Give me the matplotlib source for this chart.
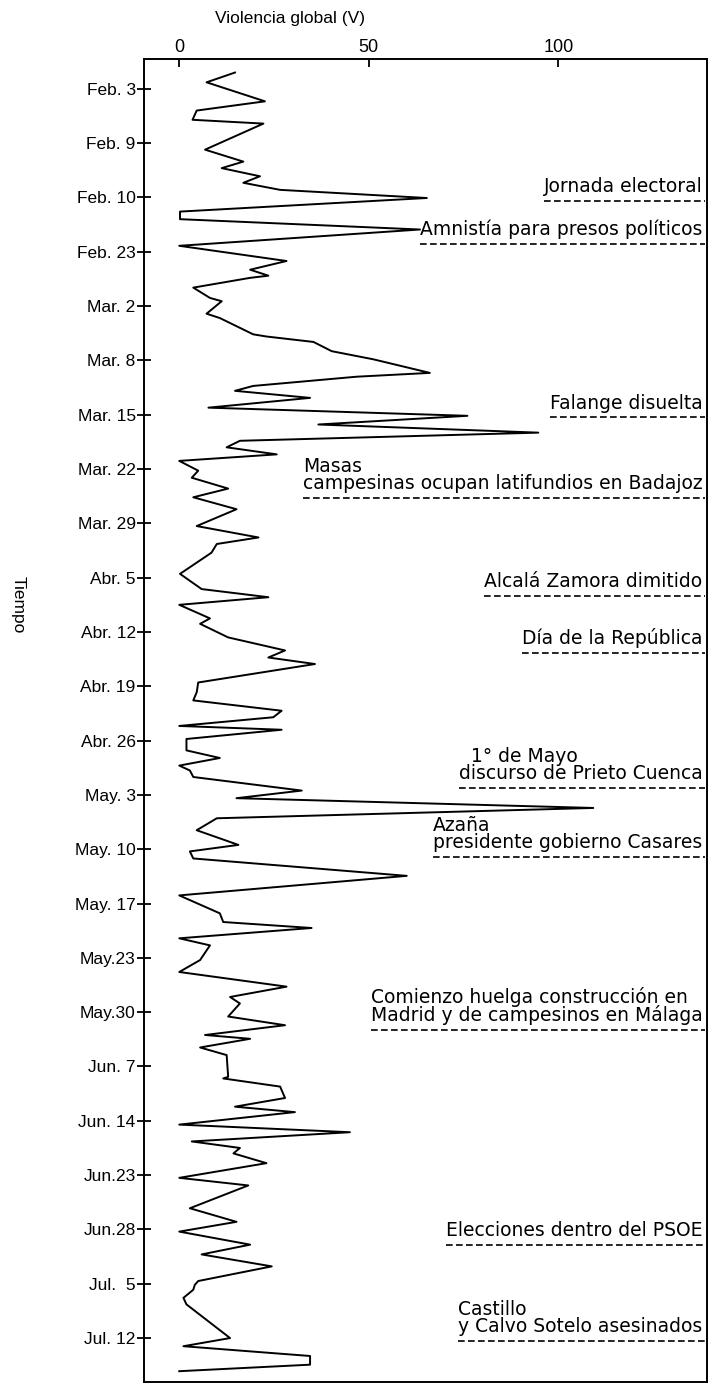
import matplotlib
matplotlib.use('Agg')
import matplotlib.pyplot as plt
import matplotlib.transforms as mtransforms

plt.rcParams['font.family'] = ['Liberation Sans', 'DejaVu Sans']

# Etiquetas del eje de tiempo (una por semana, espaciado uniforme)
fechas = ['Feb. 3', 'Feb. 9', 'Feb. 10', 'Feb. 23', 'Mar. 2', 'Mar. 8', 'Mar. 15',
          'Mar. 22', 'Mar. 29', 'Abr. 5', 'Abr. 12', 'Abr. 19', 'Abr. 26', 'May. 3',
          'May. 10', 'May. 17', 'May.23', 'May.30', 'Jun. 7', 'Jun. 14', 'Jun.23',
          'Jun.28', 'Jul.  5', 'Jul. 12']

# Serie: posicion temporal (en unidades de etiqueta) y violencia global V
tiempo = [-0.30, -0.12, 0.23, 0.40, 0.57, 0.64, 1.12, 1.34, 1.46, 1.61, 1.73, 1.86,
          2.01, 2.26, 2.40, 2.59, 2.89, 3.17, 3.33, 3.44, 3.48, 3.66, 3.85, 3.91,
          4.14, 4.22, 4.52, 4.56, 4.66, 4.83, 4.98, 5.23, 5.30, 5.47, 5.56, 5.69,
          5.87, 6.02, 6.18, 6.33, 6.48, 6.60, 6.73, 6.85, 7.03, 7.16, 7.36, 7.52,
          7.74, 8.05, 8.26, 8.38, 8.54, 8.93, 9.21, 9.36, 9.50, 9.75, 9.85, 10.10,
          10.34, 10.47, 10.59, 10.93, 11.11, 11.26, 11.45, 11.57, 11.73, 11.80,
          11.97, 12.18, 12.32, 12.46, 12.55, 12.67, 12.92, 13.06, 13.24, 13.43,
          13.65, 13.92, 14.04, 14.17, 14.49, 14.85, 15.18, 15.34, 15.45, 15.64,
          15.77, 16.04, 16.26, 16.53, 16.72, 16.84, 17.08, 17.24, 17.42, 17.49,
          17.65, 17.79, 18.19, 18.22, 18.37, 18.58, 18.74, 18.84, 19.07, 19.21,
          19.38, 19.50, 19.60, 19.78, 20.05, 20.19, 20.61, 20.86, 21.04, 21.28,
          21.46, 21.68, 21.95, 22.02, 22.11, 22.26, 22.38, 23.00, 23.15, 23.33,
          23.49, 23.61]
violencia = [14.7, 7.2, 22.6, 4.6, 3.5, 22.2, 6.8, 16.9, 11.2, 21.3, 16.9, 26.6,
             65.3, 0.2, 0.2, 63.5, 0.0, 28.3, 18.7, 23.5, 18.7, 3.7, 8.1, 11.2,
             7.2, 10.7, 19.5, 23.0, 35.4, 40.2, 51.2, 66.1, 46.8, 19.5, 14.7, 34.5,
             7.7, 76.0, 36.7, 94.7, 16.0, 12.5, 25.7, 0.0, 5.0, 3.3, 12.9, 3.7,
             15.1, 4.6, 20.9, 9.9, 8.5, 0.2, 5.9, 23.5, 0.0, 8.1, 5.5, 12.9,
             27.9, 23.5, 35.8, 5.0, 4.6, 3.7, 27.0, 24.8, 0.0, 27.0,
             1.9, 1.9, 10.7, 0.0, 2.8, 3.7, 32.3, 15.1, 109.2, 9.9,
             4.6, 15.6, 2.8, 3.7, 60.0, 0.0, 10.7, 11.6, 34.9, 0.0,
             8.1, 5.5, 0.0, 28.3, 13.4, 16.0, 12.9, 27.9, 6.8, 18.7,
             5.5, 12.5, 12.9, 11.6, 26.6, 27.9, 14.7, 30.5, 0.0, 45.0,
             3.3, 16.0, 14.3, 23.0, 0.0, 18.2, 2.8, 15.1, 0.0, 18.7,
             5.9, 24.4, 5.0, 4.1, 3.7, 1.1, 1.9, 13.4, 1.1, 34.5,
             34.5, 0.0]

# Acontecimientos: posicion de la linea discontinua y texto
eventos_t = [2.06, 2.85, 6.05, 7.54, 9.34, 10.39, 12.87, 14.14, 17.33, 21.29, 23.05]
eventos_txt = ['Jornada electoral',
               'Amnistía para presos políticos',
               'Falange disuelta',
               'Masas\ncampesinas ocupan latifundios en Badajoz',
               'Alcalá Zamora dimitido',
               'Día de la República',
               '  1° de Mayo\ndiscurso de Prieto Cuenca',
               'Azaña\npresidente gobierno Casares',
               'Comienzo huelga construcción en\nMadrid y de campesinos en Málaga',
               'Elecciones dentro del PSOE',
               'Castillo\ny Calvo Sotelo asesinados']

fig = plt.figure(figsize=(7.09, 13.84), dpi=100)
ax = fig.add_axes([0.2031, 0.0014, 0.7941, 0.9560])

ax.plot(violencia, tiempo, color='black', lw=1.4)

ax.set_xlim(-9.3, 139.2)
ax.set_ylim(23.81, -0.55)

ax.xaxis.tick_top()
ax.xaxis.set_label_position('top')
ax.set_xticks([0, 50, 100])
ax.set_xticklabels(['0', '50', '100'], fontsize=13)
ax.tick_params(axis='x', direction='in', length=6, width=1.3, pad=2)
ax.set_xlabel('Violencia global (V)', fontsize=12.5, labelpad=12)
ax.xaxis.label.set_x(0.259)

ax.set_yticks(range(len(fechas)))
ax.set_yticklabels(fechas, fontsize=12.5)
ax.tick_params(axis='y', direction='inout', length=10, width=1.3, pad=1)

for s in ax.spines.values():
    s.set_linewidth(1.4)

fig.text(18 / 709, 1 - 605 / 1384, 'Tiempo', rotation=270, fontsize=12.5,
         ha='center', va='center')

trans = mtransforms.blended_transform_factory(ax.transAxes, ax.transData)
textos = []
for t, txt in zip(eventos_t, eventos_txt):
    tx = ax.text(0.992, t - 0.09, txt, transform=trans, ha='right', va='bottom',
                 fontsize=13.5, family='DejaVu Sans', multialignment='left',
                 linespacing=0.88)
    textos.append(tx)

fig.canvas.draw()
inv = ax.transAxes.inverted()
for t, tx in zip(eventos_t, textos):
    bb = tx.get_window_extent()
    x0 = inv.transform((bb.x0, bb.y0))[0]
    ax.plot([x0, 0.996], [t, t], transform=trans, color='black', lw=1.2,
            ls=(0, (4, 2)))

fig.savefig('out.png', dpi=100)
